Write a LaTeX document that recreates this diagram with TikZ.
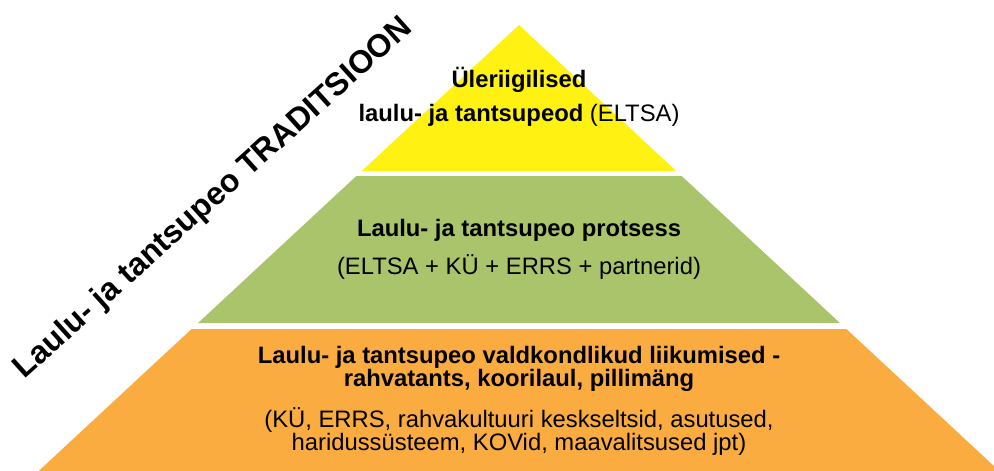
\documentclass[tikz,border=0pt]{standalone}
\usepackage{fontspec}
\setmainfont{Liberation Sans}
\usetikzlibrary{positioning}
\definecolor{pyryellow}{RGB}{255,242,18}
\definecolor{pyrgreen}{RGB}{170,196,108}
\definecolor{pyrorange}{RGB}{251,172,64}

\begin{document}
\begin{tikzpicture}[x=1pt, y=-1pt, font=\fontsize{23.8}{23}\selectfont,
	layertext/.style={align=center, anchor=base}]
	\useasboundingbox (0,0) rectangle (994,471);
	\clip (0,0) rectangle (994,471);
	% three layers of the pyramid
	\foreach \ya/\yb/\col in {25/171/pyryellow, 176/323/pyrgreen, 329/471/pyrorange} {
		\fill[\col] ({519-(\ya-25)*1.077},\ya) -- ({519+(\ya-25)*1.077},\ya)
			-- ({519+(\yb-25)*1.077},\yb) -- ({519-(\yb-25)*1.077},\yb) -- cycle;
		}
	% texts (base = baseline of the last line)
	\node[layertext] (top) at (519,121.7) {\textbf{Üleriigilised}\\[11pt]\textbf{laulu- ja tantsupeod} (ELTSA)};
	\node[layertext] (middle) at (519,274) {\textbf{Laulu- ja tantsupeo protsess}\\[11.7pt](ELTSA + KÜ + ERRS + partnerid)};
	\node[layertext] (bottom) at (519,450) {\textbf{Laulu- ja tantsupeo valdkondlikud liikumised -}\\
		\textbf{rahvatants, koorilaul, pillimäng}\\[14.4pt]
		(KÜ, ERRS, rahvakultuuri keskseltsid, asutused,\\
		haridussüsteem, KOVid, maavalitsused jpt)};
	\node[font=\fontsize{32}{36}\selectfont\bfseries, rotate=42, anchor=base] (tradition) at (219,205) {Laulu- ja tantsupeo TRADITSIOON};
\end{tikzpicture}
\end{document}
